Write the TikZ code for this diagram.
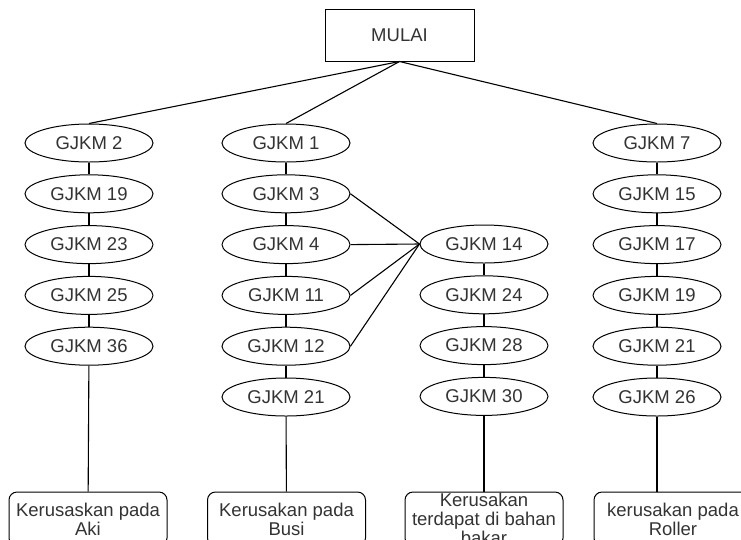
\documentclass[tikz,border=0pt]{standalone}
\usepackage{fontspec}
\setmainfont{Liberation Sans}
\usetikzlibrary{shapes.geometric}

\begin{document}
\begin{tikzpicture}[x=1pt,y=-1pt,node distance=50.8pt,line width=1.1pt,
	every node/.style={text=black!80,font=\fontsize{18.5}{19}\selectfont}]
	\tikzstyle{gejala}=[ellipse,draw,line width=1pt,minimum width=128pt,minimum height=38pt,inner sep=0pt]
	\tikzstyle{hasil}=[rectangle,rounded corners=8pt,draw,line width=1pt,minimum width=158pt,minimum height=54pt,inner sep=0pt,align=center]
	\useasboundingbox (0,0) rectangle (741,539);
	\clip (0,0) rectangle (741,539);

	\node[draw,line width=1pt,minimum width=149pt,minimum height=52pt] (mulai) at (399.5,35) {MULAI};

	% kolom aki
	\node[gejala] (a2) at (89,143) {GJKM 2};
	\node[gejala] (a19) [below of=a2] {GJKM 19};
	\node[gejala] (a23) [below of=a19] {GJKM 23};
	\node[gejala] (a25) [below of=a23] {GJKM 25};
	\node[gejala] (a36) [below of=a25] {GJKM 36};
	\node[hasil] (aki) at (88,519) {Kerusaskan pada\\Aki};

	% kolom busi
	\node[gejala] (b1) at (286,143) {GJKM 1};
	\node[gejala] (b3) [below of=b1] {GJKM 3};
	\node[gejala] (b4) [below of=b3] {GJKM 4};
	\node[gejala] (b11) [below of=b4] {GJKM 11};
	\node[gejala] (b12) [below of=b11] {GJKM 12};
	\node[gejala] (b21) [below of=b12] {GJKM 21};
	\node[hasil] (busi) at (286.5,519) {Kerusakan pada\\Busi};

	% kolom bahan bakar
	\node[gejala] (c14) at (484,244) {GJKM 14};
	\node[gejala] (c24) [below of=c14] {GJKM 24};
	\node[gejala] (c28) [below of=c24] {GJKM 28};
	\node[gejala] (c30) [below of=c28] {GJKM 30};
	\node[hasil] (bbm) at (484,519) {Kerusakan\\terdapat di bahan\\bakar};

	% kolom roller
	\node[gejala] (d7) at (657,143) {GJKM 7};
	\node[gejala] (d15) [below of=d7] {GJKM 15};
	\node[gejala] (d17) [below of=d15] {GJKM 17};
	\node[gejala] (d19) [below of=d17] {GJKM 19};
	\node[gejala] (d21) [below of=d19] {GJKM 21};
	\node[gejala] (d26) [below of=d21] {GJKM 26};
	\node[hasil] (roller) at (673,519) {kerusakan pada\\Roller};

	\path (mulai.south) edge (a2.north) edge (b1.north) edge (d7.north);

	\path (a2) edge (a19) (a19) edge (a23) (a23) edge (a25) (a25) edge (a36);
	\path (a36) edge (aki);

	\path (b1) edge (b3) (b3) edge (b4) (b4) edge (b11) (b11) edge (b12) (b12) edge (b21);
	\path (b21) edge (busi);

	\path (b3.east) edge (c14.west);
	\path (b4.east) edge (c14.west);
	\path (b11.east) edge (c14.west);
	\path (b12.east) edge (c14.west);
	\path (c14) edge (c24) (c24) edge (c28) (c28) edge (c30);
	\path (c30) edge (bbm);

	\path (d7) edge (d15) (d15) edge (d17) (d17) edge (d19) (d19) edge (d21) (d21) edge (d26);
	\path (d26) edge (d26 |- roller.north);
\end{tikzpicture}
\end{document}
